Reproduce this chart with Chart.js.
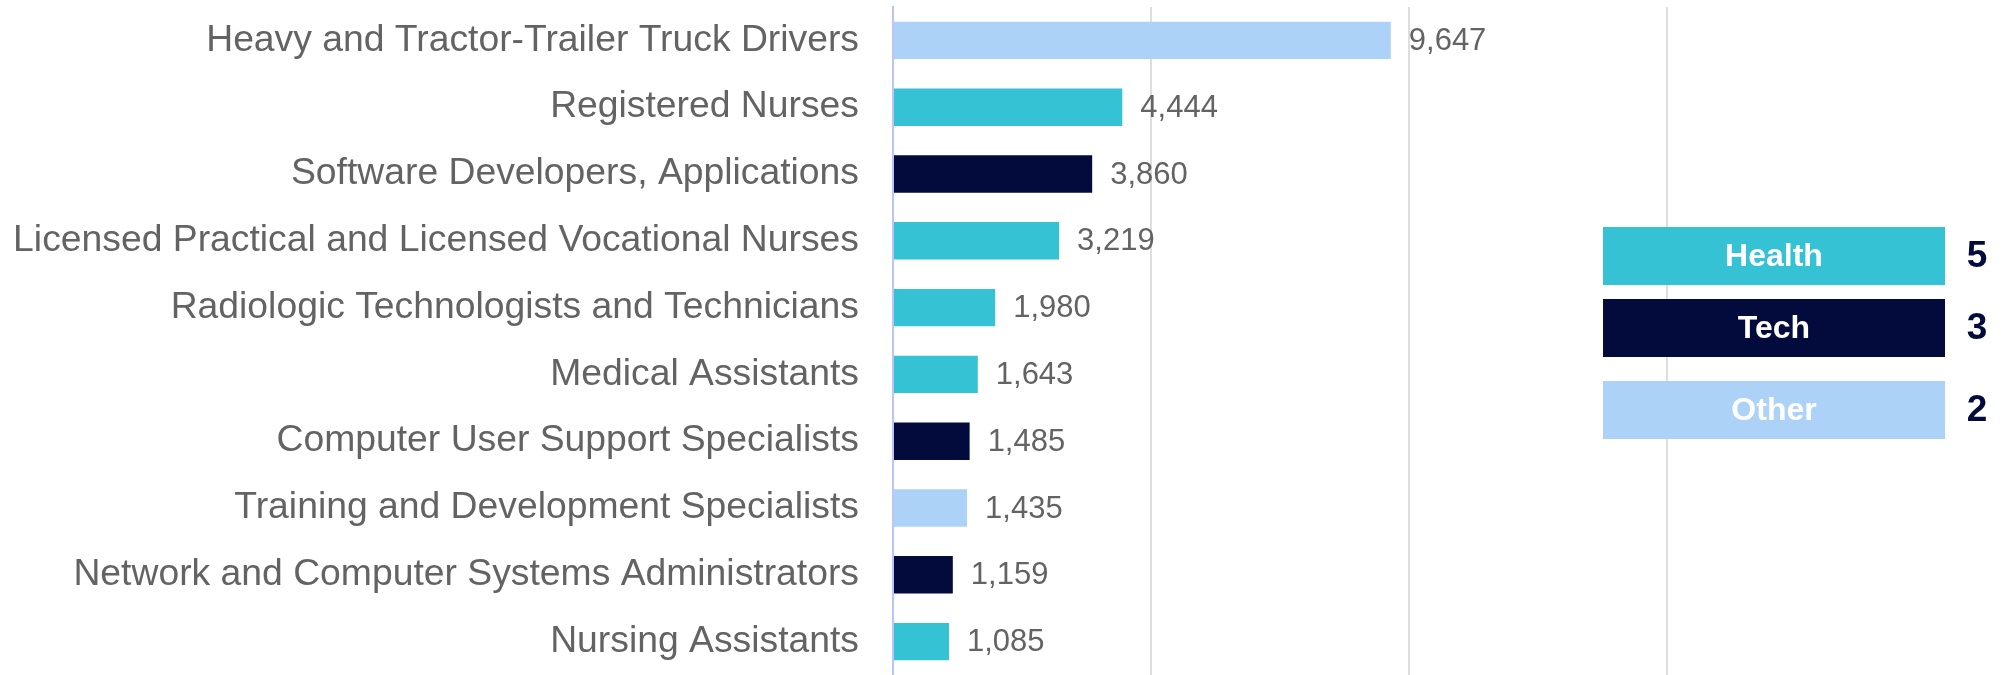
<!DOCTYPE html>
<html lang="en">
<head>
    <meta charset="UTF-8">
    <title>Top Occupations by Job Openings</title>
    <script src="https://cdn.jsdelivr.net/npm/chart.js"></script>
    <style>
        body { margin: 0; background: #ffffff; overflow: hidden; }
    </style>
</head>
<body>
    <canvas id="jobsChart" width="2010" height="675"></canvas>

    <script>
        // Chart data
        const occupations = [
            "Heavy and Tractor-Trailer Truck Drivers",
            "Registered Nurses",
            "Software Developers, Applications",
            "Licensed Practical and Licensed Vocational Nurses",
            "Radiologic Technologists and Technicians",
            "Medical Assistants",
            "Computer User Support Specialists",
            "Training and Development Specialists",
            "Network and Computer Systems Administrators",
            "Nursing Assistants"
        ];
        const openings = [9647, 4444, 3860, 3219, 1980, 1643, 1485, 1435, 1159, 1085];
        const groups = ["Other", "Health", "Tech", "Health", "Health", "Health", "Tech", "Other", "Tech", "Health"];
        const groupNames = ["Health", "Tech", "Other"];

        const groupColors = {
            Health: "#35C2D4",
            Tech: "#020B3C",
            Other: "#ADD2F8"
        };

        // Count of occupations in each group, for the panel on the right
        const groupCounts = groupNames.map(g => groups.filter(x => x === g).length);

        const labelFont = "'Liberation Sans', Arial, sans-serif";

        // Value labels to the right of each bar
        const valueLabels = {
            id: "valueLabels",
            afterDatasetsDraw(chart) {
                const ctx = chart.ctx;
                const meta = chart.getDatasetMeta(0);
                ctx.save();
                ctx.font = "31px " + labelFont;
                ctx.fillStyle = "#636363";
                ctx.textAlign = "left";
                ctx.textBaseline = "middle";
                meta.data.forEach((bar, i) => {
                    ctx.fillText(openings[i].toLocaleString("en-US"), bar.x + 18, bar.y + 1);
                });
                ctx.restore();
            }
        };

        // Group panel (Health / Tech / Other with counts)
        const groupPanel = {
            id: "groupPanel",
            afterDraw(chart) {
                const ctx = chart.ctx;
                const left = 1603, width = 342, height = 58;
                const tops = [227, 299, 381];
                ctx.save();
                groupNames.forEach((name, i) => {
                    ctx.fillStyle = groupColors[name];
                    ctx.fillRect(left, tops[i], width, height);

                    ctx.font = "bold 32px " + labelFont;
                    ctx.fillStyle = "#ffffff";
                    ctx.textAlign = "center";
                    ctx.textBaseline = "middle";
                    ctx.fillText(name, left + width / 2, tops[i] + height / 2 + 1);

                    ctx.font = "bold 37px " + labelFont;
                    ctx.fillStyle = "#020B3C";
                    ctx.fillText(String(groupCounts[i]), 1977, tops[i] + height / 2 + 1);
                });
                ctx.restore();
            }
        };

        const ctx = document.getElementById("jobsChart").getContext("2d");
        new Chart(ctx, {
            type: "bar",
            data: {
                labels: occupations,
                datasets: [{
                    label: "Job Openings",
                    data: openings,
                    backgroundColor: groups.map(g => groupColors[g]),
                    borderWidth: 0,
                    categoryPercentage: 1.0,
                    barPercentage: 0.56
                }]
            },
            options: {
                indexAxis: "y",
                responsive: false,
                animation: false,
                layout: {
                    padding: { top: 7, right: 85, bottom: -5, left: 0 }
                },
                plugins: {
                    legend: { display: false },
                    tooltip: { enabled: false }
                },
                scales: {
                    x: {
                        min: 0,
                        max: 20000,
                        ticks: { display: false, stepSize: 5000 },
                        border: { display: false },
                        grid: {
                            drawTicks: false,
                            lineWidth: 2,
                            color: c => (c.tick && c.tick.value > 0 && c.tick.value < 20000) ? "#DEDEDE" : "rgba(0,0,0,0)"
                        }
                    },
                    y: {
                        grid: { display: false, drawTicks: false },
                        border: { display: true, color: "#BCC5F8", width: 2 },
                        ticks: {
                            color: "#636363",
                            padding: 34,
                            font: { family: labelFont, size: 37.3 }
                        },
                        afterFit: scale => {
                            scale.width = 893;
                            scale.paddingTop = 0;
                            scale.paddingBottom = 0;
                        }
                    }
                }
            },
            plugins: [valueLabels, groupPanel]
        });
    </script>
</body>
</html>
